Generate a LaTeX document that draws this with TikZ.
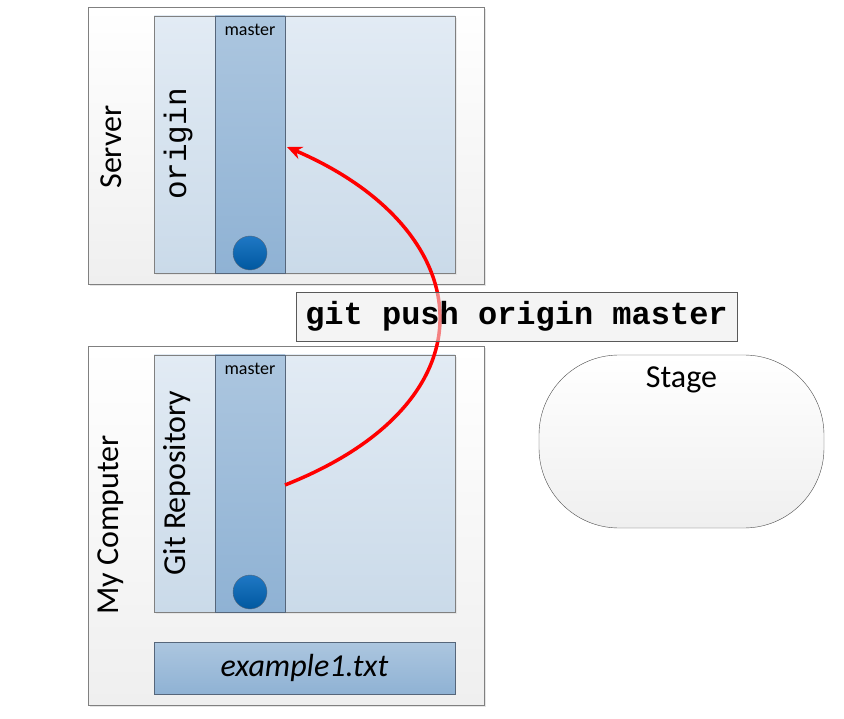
\documentclass[tikz,border=0pt]{standalone}
\usepackage{fontspec}
\setmainfont{Carlito}
\newfontfamily\codefont{Liberation Mono}
\usetikzlibrary{arrows.meta,positioning,shadows}

\definecolor{hostline}{HTML}{808080}
\definecolor{hostbot}{HTML}{EFEFEF}
\definecolor{repotop}{HTML}{E2EBF4}
\definecolor{repobot}{HTML}{CADAE9}
\definecolor{branchtop}{HTML}{ACC6DF}
\definecolor{branchbot}{HTML}{8FB2D4}
\definecolor{branchline}{HTML}{56667A}
\definecolor{committop}{HTML}{1F78C4}
\definecolor{commitbot}{HTML}{0058A0}
\definecolor{pushred}{HTML}{FF0000}

\begin{document}
\begin{tikzpicture}[x=1pt,y=-1pt,>=Stealth,
  every node/.style={inner sep=0pt,outer sep=0pt},
  hostbox/.style={draw=hostline,top color=white,bottom color=hostbot,anchor=north west,
    drop shadow={shadow xshift=2pt,shadow yshift=-2pt,fill=black!20}},
  repobox/.style={draw=hostline,top color=repotop,bottom color=repobot,anchor=north west,
    drop shadow={shadow xshift=2pt,shadow yshift=-2pt,fill=black!15}},
  branchbox/.style={draw=branchline,top color=branchtop,bottom color=branchbot,anchor=north west},
  commit/.style={circle,draw=branchline,top color=committop,bottom color=commitbot,minimum size=34pt},
  bigtext/.style={font=\fontsize{32}{38}\selectfont},
  smalltext/.style={font=\fontsize{18}{22}\selectfont},
  cmdbox/.style={draw=black!65,fill=black!8,fill opacity=0.55,text opacity=1,
    minimum width=441pt,minimum height=49pt,font=\codefont\bfseries\fontsize{32}{38}\selectfont}]
\useasboundingbox (0,0) rectangle (844,719);

% server side
\node[hostbox,minimum width=396pt,minimum height=277pt] (server) at (88,7) {};
\node[repobox,minimum width=301pt,minimum height=257pt] (srepo) at (154,16) {};
\node[branchbox,minimum width=70pt,minimum height=257pt] (smaster) at (215,16) {};
\node[smalltext] (smasterlbl) at (250,30) {master};
\node[commit] (scommit) at (250,253) {};
\node[bigtext,rotate=90] (serverlbl) at (111,147) {Server};
\node[rotate=90,font=\codefont\fontsize{31}{36}\selectfont] (originlbl) at (178,144) {origin};

% local side
\node[hostbox,minimum width=396pt,minimum height=359pt] (local) at (88,346) {};
\node[repobox,minimum width=301pt,minimum height=257pt] (lrepo) at (154,355) {};
\node[branchbox,minimum width=70pt,minimum height=257pt] (lmaster) at (215,355) {};
\node[smalltext] (lmasterlbl) at (250,369) {master};
\node[commit] (lcommit) at (250,592) {};
\node[bigtext,rotate=90] (locallbl) at (111,525) {My Computer};
\node[bigtext,rotate=90] (repolbl) at (177,483) {Git Repository};
\node[branchbox,minimum width=301pt,minimum height=52pt,bigtext] (file) at (154,642) {\itshape example1.txt};

% stage
\node[draw=black!70,top color=white,bottom color=hostbot,rounded corners=80pt,
  minimum width=285pt,minimum height=173pt,anchor=north west] (stage) at (539,355) {};
\node[bigtext,below=12pt of stage.north] (stagelbl) {Stage};

% push
\coordinate (pushsrc) at (285,485);
\coordinate (pushdst) at (287,147);
\draw[->,pushred,line width=3.5pt,arrows={-Stealth[length=15pt,width=13pt]}]
  (pushsrc) .. controls (500,400) and (480,230) .. (pushdst);
\node[cmdbox] (push) at (516.5,316.5) {git push origin master};
\end{tikzpicture}
\end{document}
